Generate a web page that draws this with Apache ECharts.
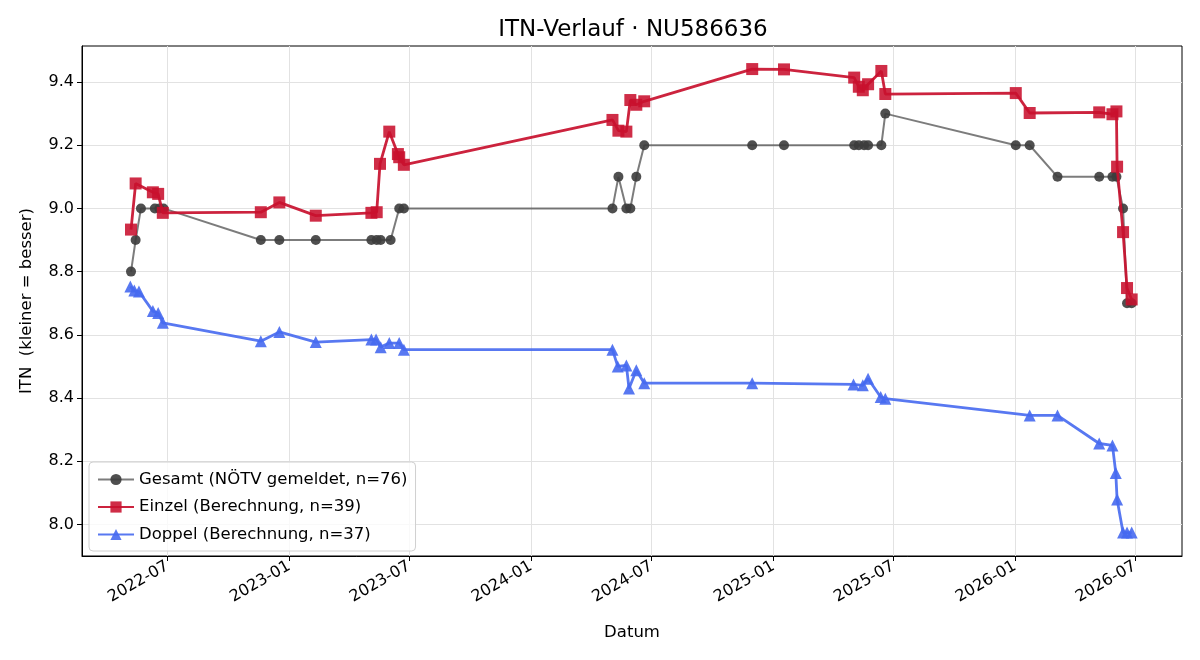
<!DOCTYPE html>
<html>
<head>
    <meta charset="utf-8">
    <script type="text/javascript" src="https://cdn.jsdelivr.net/npm/echarts@6/dist/echarts.min.js"></script>
</head>
<body style="margin:0;background:#fff">
<div id="main" style="width:1200px;height:660px"></div>
<script type="text/javascript">
    // Gesamt (NÖTV gemeldet)
    var gesamtDates = ['2022-05-07', '2022-05-14', '2022-05-22', '2022-06-12', '2022-06-19', '2022-06-25',
        '2022-11-19', '2022-12-17', '2023-02-10', '2023-05-05', '2023-05-13', '2023-05-19', '2023-06-03',
        '2023-06-16', '2023-06-23', '2024-05-03', '2024-05-12', '2024-05-24', '2024-05-30', '2024-06-08',
        '2024-06-20', '2024-11-30', '2025-01-17', '2025-05-03', '2025-05-10', '2025-05-18', '2025-05-24',
        '2025-06-13', '2025-06-19', '2026-01-02', '2026-01-23', '2026-03-06', '2026-05-08', '2026-05-28',
        '2026-06-03', '2026-06-13', '2026-06-19', '2026-06-26'];
    var gesamtValues = [8.8, 8.9, 9.0, 9.0, 9.0, 9.0,
        8.9, 8.9, 8.9, 8.9, 8.9, 8.9, 8.9,
        9.0, 9.0, 9.0, 9.1, 9.0, 9.0, 9.1,
        9.2, 9.2, 9.2, 9.2, 9.2, 9.2, 9.2,
        9.2, 9.3, 9.2, 9.2, 9.1, 9.1, 9.1,
        9.1, 9.0, 8.7, 8.7];

    // Einzel (Berechnung)
    var einzelDates = ['2022-05-07', '2022-05-14', '2022-06-09', '2022-06-17', '2022-06-24', '2022-11-19',
        '2022-12-17', '2023-02-10', '2023-05-05', '2023-05-13', '2023-05-18', '2023-06-01', '2023-06-14',
        '2023-06-16', '2023-06-23', '2024-05-03', '2024-05-12', '2024-05-24', '2024-05-30', '2024-06-08',
        '2024-06-20', '2024-11-30', '2025-01-17', '2025-05-03', '2025-05-10', '2025-05-16', '2025-05-24',
        '2025-06-13', '2025-06-19', '2026-01-02', '2026-01-23', '2026-05-08', '2026-05-28', '2026-06-03',
        '2026-06-04', '2026-06-13', '2026-06-19', '2026-06-26'];
    var einzelValues = [8.933, 9.079, 9.051, 9.046, 8.986, 8.988,
        9.019, 8.977, 8.986, 8.988, 9.141, 9.243, 9.172,
        9.162, 9.138, 9.280, 9.246, 9.243, 9.343, 9.328,
        9.339, 9.441, 9.440, 9.414, 9.385, 9.374, 9.393,
        9.435, 9.362, 9.365, 9.302, 9.304, 9.298, 9.307,
        9.132, 8.925, 8.748, 8.712];

    // Doppel (Berechnung)
    var doppelDates = ['2022-05-06', '2022-05-12', '2022-05-19', '2022-06-09', '2022-06-17', '2022-06-24',
        '2022-11-19', '2022-12-17', '2023-02-10', '2023-05-05', '2023-05-12', '2023-05-19', '2023-06-01',
        '2023-06-16', '2023-06-23', '2024-05-03', '2024-05-11', '2024-05-24', '2024-05-28', '2024-06-08',
        '2024-06-20', '2024-11-30', '2025-05-02', '2025-05-16', '2025-05-24', '2025-06-12', '2025-06-19',
        '2026-01-23', '2026-03-06', '2026-05-08', '2026-05-28', '2026-06-02', '2026-06-04', '2026-06-13',
        '2026-06-19', '2026-06-26'];
    var doppelValues = [8.753, 8.740, 8.737, 8.675, 8.669, 8.638,
        8.580, 8.609, 8.577, 8.585, 8.585, 8.561, 8.574,
        8.574, 8.553, 8.553, 8.500, 8.503, 8.430, 8.488,
        8.447, 8.447, 8.443, 8.440, 8.461, 8.403, 8.398,
        8.345, 8.345, 8.256, 8.250, 8.163, 8.079, 7.974,
        7.974, 7.974];

    var xTickLabels = ['2022-07', '2023-01', '2023-07', '2024-01', '2024-07', '2025-01', '2025-07', '2026-01', '2026-07'];
    var yTickValues = [8.0, 8.2, 8.4, 8.6, 8.8, 9.0, 9.2, 9.4];

    function toTime(s) {
        var p = s.split('-');
        return Date.UTC(+p[0], +p[1] - 1, p[2] ? +p[2] : 1);
    }
    function pairs(dates, values) {
        var out = [];
        for (var i = 0; i < dates.length; i++) {
            out.push([toTime(dates[i]), values[i]]);
        }
        return out;
    }
    var xTicks = xTickLabels.map(toTime);

    var font = 'DejaVu Sans';
    var myChart = echarts.init(document.getElementById('main'), null, {renderer: 'canvas'});
    var option = {
        backgroundColor: '#fff',
        animation: false,
        textStyle: {fontFamily: font},
        title: {
            text: 'ITN-Verlauf · NU586636',
            left: 628,
            top: 14,
            textAlign: 'center',
            textStyle: {fontFamily: font, fontSize: 23, fontWeight: 'normal', color: '#000'}
        },
        grid: {
            left: 82, right: 18, top: 46, bottom: 104,
            show: true, borderColor: '#000', borderWidth: 1, backgroundColor: 'transparent'
        },
        legend: {
            orient: 'vertical',
            left: 89, top: 462,
            itemWidth: 36, itemHeight: 14, itemGap: 10.5,
            padding: [9, 8, 8, 8],
            backgroundColor: 'rgba(255,255,255,0.8)',
            borderColor: '#d0d0d0', borderWidth: 1, borderRadius: 4,
            textStyle: {fontFamily: font, fontSize: 16.5, color: '#000'},
            data: ['Gesamt (NÖTV gemeldet, n=76)', 'Einzel (Berechnung, n=39)', 'Doppel (Berechnung, n=37)']
        },
        xAxis: {
            type: 'value',
            min: toTime('2022-02-22'),
            max: toTime('2026-09-10'),
            name: 'Datum',
            nameLocation: 'middle',
            nameGap: 68,
            nameTextStyle: {fontFamily: font, fontSize: 16.5, color: '#000'},
            axisLine: {onZero: false, lineStyle: {color: '#000', width: 1}},
            axisTick: {show: true, length: 5, lineStyle: {color: '#000'}, customValues: xTicks},
            axisLabel: {
                rotate: 30,
                margin: 9,
                fontFamily: font, fontSize: 16, color: '#000',
                customValues: xTicks,
                formatter: function (v) {
                    var d = new Date(v);
                    var m = d.getUTCMonth() + 1;
                    return d.getUTCFullYear() + '-' + (m < 10 ? '0' + m : m);
                }
            },
            splitLine: {show: true, lineStyle: {color: '#e2e2e2', width: 1}}
        },
        yAxis: {
            type: 'value',
            min: 7.9,
            max: 9.514,
            name: 'ITN  (kleiner = besser)',
            nameLocation: 'middle',
            nameGap: 47,
            nameTextStyle: {fontFamily: font, fontSize: 16.5, color: '#000'},
            axisLine: {show: true, lineStyle: {color: '#000', width: 1}},
            axisTick: {show: true, length: 5, lineStyle: {color: '#000'}, customValues: yTickValues},
            axisLabel: {
                margin: 8,
                fontFamily: font, fontSize: 16, color: '#000',
                customValues: yTickValues,
                formatter: function (v) { return v.toFixed(1); }
            },
            splitLine: {show: true, lineStyle: {color: '#e2e2e2', width: 1}}
        },
        series: [
            {
                name: 'Gesamt (NÖTV gemeldet, n=76)',
                type: 'line',
                data: pairs(gesamtDates, gesamtValues),
                symbol: 'circle',
                symbolSize: 10,
                showAllSymbol: true,
                z: 2,
                lineStyle: {color: 'rgba(68,68,68,0.7)', width: 2},
                itemStyle: {color: 'rgba(60,60,60,0.9)', borderWidth: 0}
            },
            {
                name: 'Einzel (Berechnung, n=39)',
                type: 'line',
                data: pairs(einzelDates, einzelValues),
                symbol: 'rect',
                symbolSize: 12,
                showAllSymbol: true,
                z: 3,
                lineStyle: {color: 'rgba(200,16,46,0.92)', width: 2.8},
                itemStyle: {color: 'rgba(200,16,46,0.88)', borderWidth: 0}
            },
            {
                name: 'Doppel (Berechnung, n=37)',
                type: 'line',
                data: pairs(doppelDates, doppelValues),
                symbol: 'triangle',
                symbolSize: 12,
                showAllSymbol: true,
                z: 3,
                lineStyle: {color: 'rgba(70,105,240,0.9)', width: 2.8},
                itemStyle: {color: 'rgba(70,105,240,0.9)', borderWidth: 0}
            }
        ]
    };
    myChart.setOption(option);
</script>
</body>
</html>
